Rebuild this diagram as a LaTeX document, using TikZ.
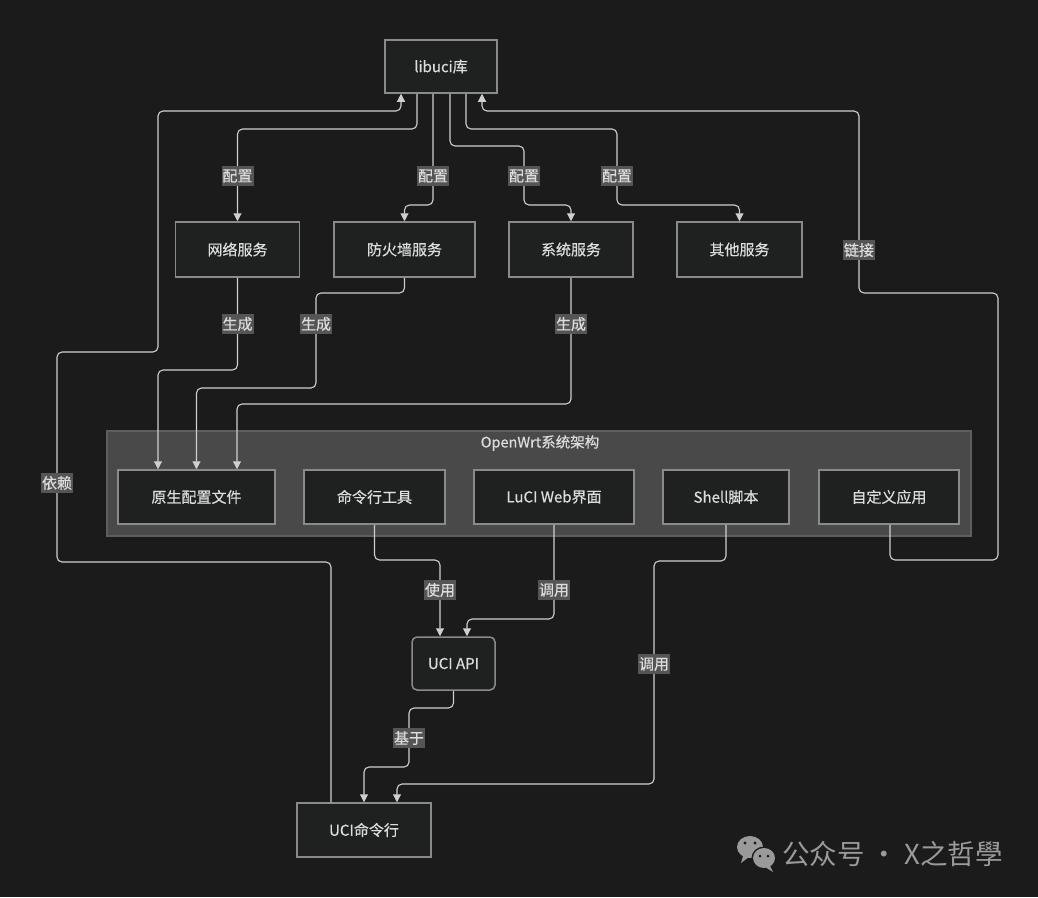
\documentclass[tikz,border=0pt]{standalone}
\usepackage{fontspec}
\setmainfont{Noto Sans CJK SC}[FakeBold=0.5]
\newfontfamily\wmfont{Noto Sans CJK SC}
\usetikzlibrary{arrows.meta}
\definecolor{bg}{HTML}{1B1B1B}
\definecolor{boxfill}{HTML}{1F2020}
\definecolor{boxline}{HTML}{8A8A8A}
\definecolor{txt}{HTML}{DDDDDD}
\definecolor{edgecol}{HTML}{CFCFCF}
\definecolor{lblfill}{HTML}{555555}
\definecolor{clfill}{HTML}{484948}
\definecolor{clline}{HTML}{5E5E5E}
\definecolor{wm}{HTML}{9A9A9A}
\tikzset{
  box/.style={draw=boxline, line width=1.5pt, fill=boxfill, text=txt, inner sep=0pt,
    font=\fontsize{15}{18}\selectfont},
  edge/.style={draw=edgecol, line width=1.1pt, rounded corners=5pt,
    -{Triangle[width=8pt,length=8pt]}},
  lbl/.style={fill=lblfill, text=txt, inner xsep=1pt, inner ysep=3.5pt,
    font=\fontsize{15}{18}\selectfont, rounded corners=0pt}
}
\begin{document}
\begin{tikzpicture}[x=1pt,y=-1pt]
\useasboundingbox (0,0) rectangle (1038,897);
\fill[bg] (0,0) rectangle (1038,897);

% cluster
\node[draw=clline, line width=1.2pt, fill=clfill, minimum width=864pt, minimum height=105pt, inner sep=0pt] (cl) at (539,483.5) {};
\node[text=txt, font=\fontsize{14.5}{17}\selectfont] (cltitle) at (540,443) {OpenWrt系统架构};

% nodes
\node[box, minimum width=112pt, minimum height=53pt] (lib) at (441,66.5) {libuci库};
\node[box, minimum width=124pt, minimum height=55pt] (net) at (237.5,249.5) {网络服务};
\node[box, minimum width=141pt, minimum height=55pt] (fw) at (404.5,249.5) {防火墙服务};
\node[box, minimum width=124pt, minimum height=55pt] (sys) at (571,249.5) {系统服务};
\node[box, minimum width=125pt, minimum height=55pt] (oth) at (739.5,249.5) {其他服务};

\node[box, minimum width=157pt, minimum height=54pt] (raw) at (196.5,497) {原生配置文件};
\node[box, minimum width=141pt, minimum height=54pt] (cmd) at (374.5,497) {命令行工具};
\node[box, minimum width=160pt, minimum height=54pt] (luci) at (554,497) {LuCI Web界面};
\node[box, minimum width=126pt, minimum height=54pt] (shell) at (726,497) {Shell脚本};
\node[box, minimum width=140pt, minimum height=54pt] (cust) at (889,497) {自定义应用};

\node[box, rounded corners=5pt, minimum width=83pt, minimum height=53pt] (api) at (453.5,663.5) {UCI API};
\node[box, minimum width=134pt, minimum height=54pt] (cli) at (364,830) {UCI命令行};

% libuci -> services
\draw[edge] ([xshift=-24pt]lib.south) -- (417,129) -- (237.5,129) -- (237.5,176) node[lbl] {配置} -- (net.north);
\draw[edge] ([xshift=-8pt]lib.south) -- (433,176) node[lbl] {配置} -- (433,205) -- (404.5,205) -- (fw.north);
\draw[edge] ([xshift=9pt]lib.south) -- (450,146) -- (524,146) -- (524,176) node[lbl] {配置} -- (524,205) -- (571,205) -- (sys.north);
\draw[edge] ([xshift=25pt]lib.south) -- (466,129) -- (617,129) -- (617,176) node[lbl] {配置} -- (617,205) -- (739.5,205) -- (oth.north);

% services -> raw config
\draw[edge] (net.south) -- (237.5,324) node[lbl] {生成} -- (237.5,370) -- (158,370) -- ([xshift=-38.5pt]raw.north);
\draw[edge] (fw.south) -- (404.5,293) -- (316,293) -- (316,324) node[lbl] {生成} -- (316,388) -- (196.5,388) -- (raw.north);
\draw[edge] (sys.south) -- (571,324) node[lbl] {生成} -- (571,404) -- (237,404) -- ([xshift=40.5pt]raw.north);

% dependencies on libuci
\draw[edge] ([xshift=-33pt]cli.north) -- (331,562) -- (57,562) -- (57,483) node[lbl] {依赖} -- (57,352) -- (158,352) -- (158,111) -- (401,111) -- ([xshift=-40pt]lib.south);
\draw[edge] ([xshift=1pt]cust.south) -- (890,560) -- (998,560) -- (998,293) -- (859,293) -- (859,250) node[lbl] {链接} -- (859,111) -- (482,111) -- ([xshift=41pt]lib.south);

% tools -> API / CLI
\draw[edge] (cmd.south) -- (374.5,560) -- (440,560) -- (440,590) node[lbl] {使用} -- ([xshift=-13.5pt]api.north);
\draw[edge] (luci.south) -- (554,590) node[lbl] {调用} -- (554,619) -- (467,619) -- ([xshift=13.5pt]api.north);
\draw[edge] (api.south) -- (453.5,708) -- (409,708) -- (409,738) node[lbl] {基于} -- (409,767) -- (364,767) -- (cli.north);
\draw[edge] (shell.south) -- (726,561) -- (654,561) -- (654,664) node[lbl] {调用} -- (654,784) -- (397,784) -- ([xshift=33pt]cli.north);

% watermark
\begin{scope}
\fill[wm] (750,847) ellipse [x radius=13pt, y radius=11pt];
\fill[wm] (743,856) -- (741,863) -- (749,857) -- cycle;
\fill[bg] (764,858) ellipse [x radius=12.5pt, y radius=11.5pt];
\fill[wm] (764,858) ellipse [x radius=11pt, y radius=10pt];
\fill[wm] (770,866) -- (773,872) -- (765,867) -- cycle;
\fill[bg] (745,843) circle (1.7pt);
\fill[bg] (755,843) circle (1.7pt);
\fill[bg] (760,856) circle (1.5pt);
\fill[bg] (768,856) circle (1.5pt);
\end{scope}
\node[anchor=west, text=wm, inner sep=0pt, font=\wmfont\fontsize{27.5}{32}\selectfont] (wmtext) at (782,854) {公众号 · X之哲學};
\end{tikzpicture}
\end{document}
